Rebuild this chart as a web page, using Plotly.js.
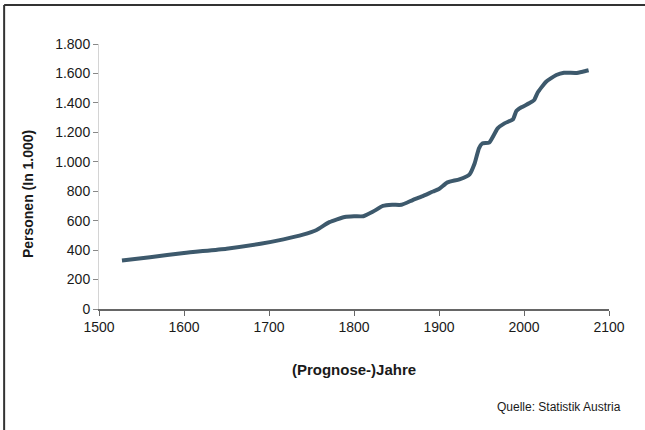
<!DOCTYPE html>
<html>
<head>
<meta charset="utf-8">
<script src="https://cdn.plot.ly/plotly-3.0.1.min.js"></script>
<style>html,body{margin:0;padding:0;background:#fff;}#chart{width:645px;height:430px;}</style>
</head>
<body>
<div id="chart"></div>
<script>
const years = [1527,1560,1600,1650,1690,1717,1740,1756,1771,1789,1800,1811,1822,1834,1845,1856,1869,1880,1893,1900,1910,1924,1936,1942,1947,1951,1959,1969,1977,1987,1991,1997,2006,2012,2016,2026,2038,2047,2061,2069,2076];
const persons = [330,352,381,410,443,473,505,537,590,625,630,630,660,700,708,708,740,765,798,815,860,881,915,990,1091,1125,1130,1227,1261,1288,1345,1370,1397,1420,1469,1544,1589,1605,1603,1612,1622];
const xTicks = [1500,1600,1700,1800,1900,2000,2100];
const yTicks = [0,200,400,600,800,1000,1200,1400,1600,1800];
const yTickLabels = ['0','200','400','600','800','1.000','1.200','1.400','1.600','1.800'];

const font = 'Liberation Sans, Arial, sans-serif';
const data = [{
  type: 'scatter', mode: 'lines', x: years, y: persons,
  line: {color: '#3d596c', width: 4, shape: 'spline', smoothing: 0.5},
  hoverinfo: 'x+y'
}];
const layout = {
  width: 645, height: 430,
  margin: {l: 99, r: 36, t: 44, b: 121},
  paper_bgcolor: '#fff', plot_bgcolor: '#fff',
  showlegend: false,
  font: {family: font, color: '#1a1a1a', size: 14},
  xaxis: {
    range: [1500, 2100], tickvals: xTicks, ticktext: xTicks.map(String),
    showgrid: false, zeroline: false, showline: true, linecolor: '#666', linewidth: 1.5,
    ticks: 'outside', ticklen: 5, tickcolor: '#666', tickwidth: 1,
    tickfont: {family: font, size: 14, color: '#1a1a1a'},
    title: {text: '<b>(Prognose-)Jahre</b>', font: {family: font, size: 15, color: '#1a1a1a'}, standoff: 30}
  },
  yaxis: {
    range: [0, 1800], tickvals: yTicks, ticktext: yTickLabels,
    showgrid: false, zeroline: false, showline: true, linecolor: '#d4d4d4', linewidth: 1,
    ticks: 'outside', ticklen: 5, tickcolor: '#888', tickwidth: 1,
    tickfont: {family: font, size: 14, color: '#1a1a1a'},
    title: {text: ''}
  },
  annotations: [{
    text: '<b>Personen (In 1.000)</b>', xref: 'paper', yref: 'paper',
    x: -0.139, y: 0.434, xanchor: 'center', yanchor: 'middle', textangle: -90, showarrow: false,
    font: {family: font, size: 14, color: '#1a1a1a'}
  }, {
    text: 'Quelle: Statistik Austria', xref: 'paper', yref: 'paper',
    x: 1.028, y: -0.37, xanchor: 'right', yanchor: 'middle', showarrow: false,
    font: {family: 'Liberation Sans Narrow, Arial Narrow, Liberation Sans, sans-serif', size: 12, color: '#1a1a1a'}
  }],
  shapes: [{
    type: 'line', xref: 'paper', yref: 'paper',
    x0: -0.186, x1: 1.2, y0: 1.147, y1: 1.147,
    line: {color: '#333', width: 2}
  }, {
    type: 'line', xref: 'paper', yref: 'paper',
    x0: -0.186, x1: -0.186, y0: 1.147, y1: -0.6,
    line: {color: '#333', width: 2}
  }]
};
Plotly.newPlot('chart', data, layout, {displayModeBar: false, staticPlot: true});
</script>
</body>
</html>
